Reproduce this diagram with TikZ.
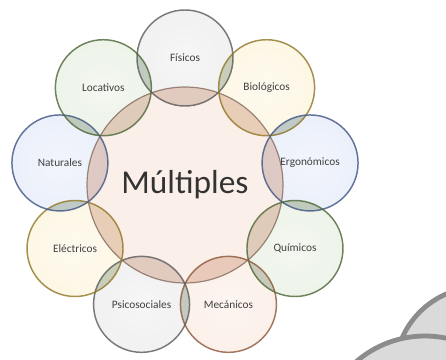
\documentclass[tikz,border=0pt]{standalone}
\usepackage{fontspec}
\setmainfont{Carlito}
\usepackage{tikz}
\usetikzlibrary{calc}

\definecolor{fondo}{RGB}{251,239,233}
\definecolor{lente}{RGB}{200,140,112}
\definecolor{nube}{RGB}{218,218,218}
\definecolor{nubeborde}{RGB}{140,140,140}
\definecolor{gris}{RGB}{150,150,150}
\definecolor{amarillo}{RGB}{238,195,60}
\definecolor{azul}{RGB}{105,140,215}
\definecolor{verde}{RGB}{125,170,90}
\definecolor{naranja}{RGB}{230,145,95}
\definecolor{cruce}{RGB}{95,120,95}

% bubble look: pale centre, coloured rim
\colorlet{burbujacol}{gris}
\pgfdeclareradialshading[burbujacol]{burbuja}{\pgfpoint{0bp}{0bp}}{%
  color(0bp)=(white!88!burbujacol);color(34bp)=(white!80!burbujacol);color(46bp)=(white!55!burbujacol);color(50bp)=(burbujacol)}

\begin{document}
\begin{tikzpicture}[x=0.75pt,y=0.75pt]
    \useasboundingbox (-185,-175) rectangle (261,185);
    \coordinate (ctr) at (0,0);

    % cloud in the corner
    \begin{scope}
        \clip (-185,-175) rectangle (261,185);
        \draw[nubeborde,fill=nube,line width=3.6pt] (295,-187) circle (85);
        \draw[nubeborde,fill=nube,line width=3.6pt] (240,-256) circle (105);
    \end{scope}

    \fill[fondo] (ctr) circle (98);

    \foreach \p/\ang/\c in {fis/90/gris,bio/50/amarillo,erg/10/azul,qui/-30/verde,mec/-70/naranja,
                            psi/-110/gris,ele/-150/amarillo,nat/170/azul,loc/130/verde} {
        \coordinate (\p) at (\ang:127);
        \colorlet{burbujacol}{\c}
        \shade[shading=burbuja,fill opacity=0.75] (\p) circle (48);
    }

    % overlaps of neighbours
    \foreach \p/\q in {fis/bio,bio/erg,erg/qui,qui/mec,mec/psi,psi/ele,ele/nat,nat/loc,loc/fis} {
        \begin{scope}
            \clip (\p) circle (48);
            \fill[cruce,fill opacity=0.3] (\q) circle (48);
        \end{scope}
    }

    % lenses with the centre
    \begin{scope}
        \clip (ctr) circle (98);
        \foreach \p in {fis,bio,erg,qui,mec,psi,ele,nat,loc} {
            \fill[lente,fill opacity=0.36] (\p) circle (48);
        }
    \end{scope}
    \foreach \p in {fis,bio,erg,qui,mec,psi,ele,nat,loc} {
        \begin{scope}
            \clip (\p) circle (48);
            \draw[lente!50!black,line width=0.9pt,opacity=0.6] (ctr) circle (98);
        \end{scope}
    }

    \foreach \p/\c in {fis/gris,bio/amarillo,erg/azul,qui/verde,mec/naranja,
                       psi/gris,ele/amarillo,nat/azul,loc/verde} {
        \draw[\c!60!black,line width=1.1pt,opacity=0.8] (\p) circle (48);
    }

    \foreach \p/\txt in {fis/Físicos,bio/Biológicos,erg/Ergonómicos,qui/Químicos,mec/Mecánicos,
                         psi/Psicosociales,ele/Eléctricos,nat/Naturales,loc/Locativos} {
        \node[font=\fontsize{8.5}{10}\selectfont,text=black!75] (\p-t) at (\p) {\txt};
    }
    \node[font=\fontsize{25}{30}\selectfont,text=black!80] (mul) at (ctr) {Múltiples};
\end{tikzpicture}
\end{document}
